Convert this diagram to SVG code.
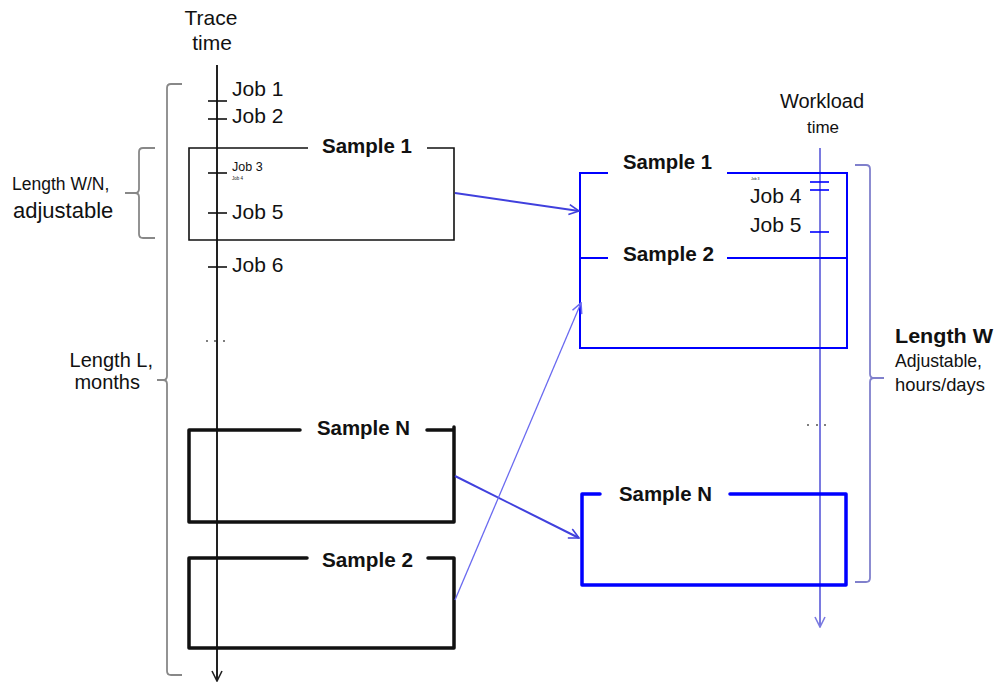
<svg xmlns="http://www.w3.org/2000/svg" width="995" height="684" viewBox="0 0 995 684">
<style>
text{font-family:"Liberation Sans",Arial,sans-serif;fill:#111}
.lbl{font-size:21px}
.smp{font-size:20px;font-weight:bold}
.axL{stroke:#222;stroke-width:2;fill:none}
.axR{stroke:#7a7ae0;stroke-width:2;fill:none}
.tickL{stroke:#111;stroke-width:1.6}
.tickR{stroke:#0000ff;stroke-width:1.6}
.thinBox{stroke:#111;stroke-width:1.6;fill:none}
.thickBox{stroke:#111;stroke-width:3.5;fill:none;stroke-linecap:round;stroke-linejoin:round}
.blueBox{stroke:#0000ff;stroke-width:2;fill:none}
.blueThick{stroke:#0000ff;stroke-width:3.5;fill:none;stroke-linecap:round;stroke-linejoin:round}
.brL{stroke:#888;stroke-width:1.8;fill:none}
.brR{stroke:#8080cc;stroke-width:1.8;fill:none}
.conn{stroke:#4040dd;stroke-width:2;fill:none}
.conn2{stroke:#6a6af0;stroke-width:1.3;fill:none}
</style>
<defs>
<marker id="ahL" viewBox="0 0 12 12" refX="11" refY="6" markerWidth="12" markerHeight="12" markerUnits="userSpaceOnUse" orient="auto"><path d="M1,1 L11,6 L1,11" fill="none" stroke="#222" stroke-width="1.6"/></marker>
<marker id="ahR" viewBox="0 0 12 12" refX="11" refY="6" markerWidth="12" markerHeight="12" markerUnits="userSpaceOnUse" orient="auto"><path d="M1,1 L11,6 L1,11" fill="none" stroke="#7a7ae0" stroke-width="1.6"/></marker>
<marker id="ahC" viewBox="0 0 12 12" refX="11" refY="6" markerWidth="12" markerHeight="12" markerUnits="userSpaceOnUse" orient="auto"><path d="M1,1 L11,6 L1,11" fill="none" stroke="#4040dd" stroke-width="1.6"/></marker>
<marker id="ahC2" viewBox="0 0 12 12" refX="11" refY="6" markerWidth="12" markerHeight="12" markerUnits="userSpaceOnUse" orient="auto"><path d="M1,1 L11,6 L1,11" fill="none" stroke="#6a6af0" stroke-width="1.6"/></marker>
</defs>
<rect width="995" height="684" fill="#fff"/>

<g id="trace-axis">
<text x="211" y="25" text-anchor="middle" style="font-size:21px">Trace</text>
<text x="212" y="50" text-anchor="middle" style="font-size:21px">time</text>
<line class="axL" x1="217" y1="65" x2="217" y2="681" marker-end="url(#ahL)"/>
<line class="tickL" x1="208" y1="101" x2="227" y2="101"/>
<line class="tickL" x1="208" y1="119" x2="227" y2="119"/>
<line class="tickL" x1="208" y1="173" x2="227" y2="173"/>
<line class="tickL" x1="208" y1="213" x2="227" y2="213"/>
<line class="tickL" x1="208" y1="267" x2="227" y2="267"/>
<text class="lbl" x="232" y="96">Job 1</text>
<text class="lbl" x="232" y="123">Job 2</text>
<text x="232" y="171" style="font-size:12.5px">Job 3</text>
<text x="232" y="180" style="font-size:4.5px">Job 4</text>
<text class="lbl" x="232" y="219">Job 5</text>
<text class="lbl" x="232" y="272">Job 6</text>
<circle cx="207" cy="341" r="1" fill="#555"/>
<circle cx="215" cy="341" r="1" fill="#555"/>
<circle cx="224" cy="341" r="1" fill="#555"/>
</g>

<g id="bracket-L">
<path class="brL" d="M182,84 L171,84 Q167,84 167,88 L167,376 Q167,380 163,380 L157,380 M163,380 Q167,380 167,384 L167,671 Q167,675 171,675 L182,675"/>
<text x="153" y="367" text-anchor="end" style="font-size:20px">Length L,</text>
<text x="140" y="389" text-anchor="end" style="font-size:20px">months</text>
</g>

<g id="bracket-WN">
<path class="brL" d="M155,148 L143,148 Q139,148 139,152 L139,189 Q139,193 135,193 L125,193 M135,193 Q139,193 139,197 L139,234 Q139,238 143,238 L155,238"/>
<text x="12" y="190" style="font-size:17.5px">Length W/N,</text>
<text x="13" y="218" style="font-size:22px">adjustable</text>
</g>

<g id="trace-sample1">
<path class="thinBox" d="M308,148 L189,148 L189,240 L454,240 L454,148 L427,148"/>
<text class="smp" x="322" y="153" textLength="90" lengthAdjust="spacingAndGlyphs">Sample 1</text>
</g>

<g id="trace-sampleN">
<path class="thickBox" d="M300,430 L189,430 L189,522 L454,522 L454,427 M427,430 L454,430"/>
<text class="smp" x="317" y="435" textLength="93" lengthAdjust="spacingAndGlyphs">Sample N</text>
</g>

<g id="trace-sample2">
<path class="thickBox" d="M307,558 L189,558 L189,648 L454,648 L454,558 L428,558"/>
<text class="smp" x="322" y="567" textLength="91" lengthAdjust="spacingAndGlyphs">Sample 2</text>
</g>

<g id="workload-axis">
<text x="822" y="108" text-anchor="middle" style="font-size:20px">Workload</text>
<text x="823" y="133" text-anchor="middle" style="font-size:17px">time</text>
<line class="axR" x1="820" y1="148" x2="820" y2="627" marker-end="url(#ahR)"/>
<circle cx="808" cy="425" r="1" fill="#555"/>
<circle cx="817" cy="425" r="1" fill="#555"/>
<circle cx="825" cy="425" r="1" fill="#555"/>
</g>

<g id="workload-sample1">
<path class="blueBox" d="M608,173 L580,173 L580,348 L847,348 L847,173 L727,173"/>
<text class="smp" x="623" y="169" textLength="89" lengthAdjust="spacingAndGlyphs">Sample 1</text>
<line class="tickR" x1="810" y1="182" x2="829" y2="182"/>
<line class="tickR" x1="810" y1="190" x2="829" y2="190"/>
<line class="tickR" x1="810" y1="232" x2="829" y2="232"/>
<text x="751" y="180" style="font-size:3.5px">Job 3</text>
<text class="lbl" x="750" y="203">Job 4</text>
<text class="lbl" x="750" y="232">Job 5</text>
</g>

<g id="workload-sample2">
<path class="blueBox" d="M580,258 L608,258 M727,258 L847,258"/>
<text class="smp" x="623" y="261" textLength="91" lengthAdjust="spacingAndGlyphs">Sample 2</text>
</g>

<g id="workload-sampleN">
<path class="blueThick" d="M600,494 L582,494 L582,585 L846,585 L846,494 L730,494"/>
<text class="smp" x="619" y="501" textLength="93" lengthAdjust="spacingAndGlyphs">Sample N</text>
</g>

<g id="bracket-W">
<path class="brR" d="M855,165 L866,165 Q870,165 870,169 L870,374 Q870,378 874,378 L884,378 M874,378 Q870,378 870,382 L870,578 Q870,582 866,582 L855,582"/>
<text x="895" y="343" style="font-size:20px;font-weight:bold" textLength="98" lengthAdjust="spacingAndGlyphs">Length W</text>
<text x="895" y="367" style="font-size:19px" textLength="87" lengthAdjust="spacingAndGlyphs">Adjustable,</text>
<text x="895" y="391" style="font-size:19px" textLength="90" lengthAdjust="spacingAndGlyphs">hours/days</text>
</g>

<g id="connectors">
<line class="conn" x1="455" y1="193" x2="579" y2="211" marker-end="url(#ahC)"/>
<line class="conn" x1="455" y1="476" x2="579" y2="538" marker-end="url(#ahC)"/>
<line class="conn2" x1="455" y1="600" x2="581" y2="303" marker-end="url(#ahC2)"/>
</g>
</svg>
